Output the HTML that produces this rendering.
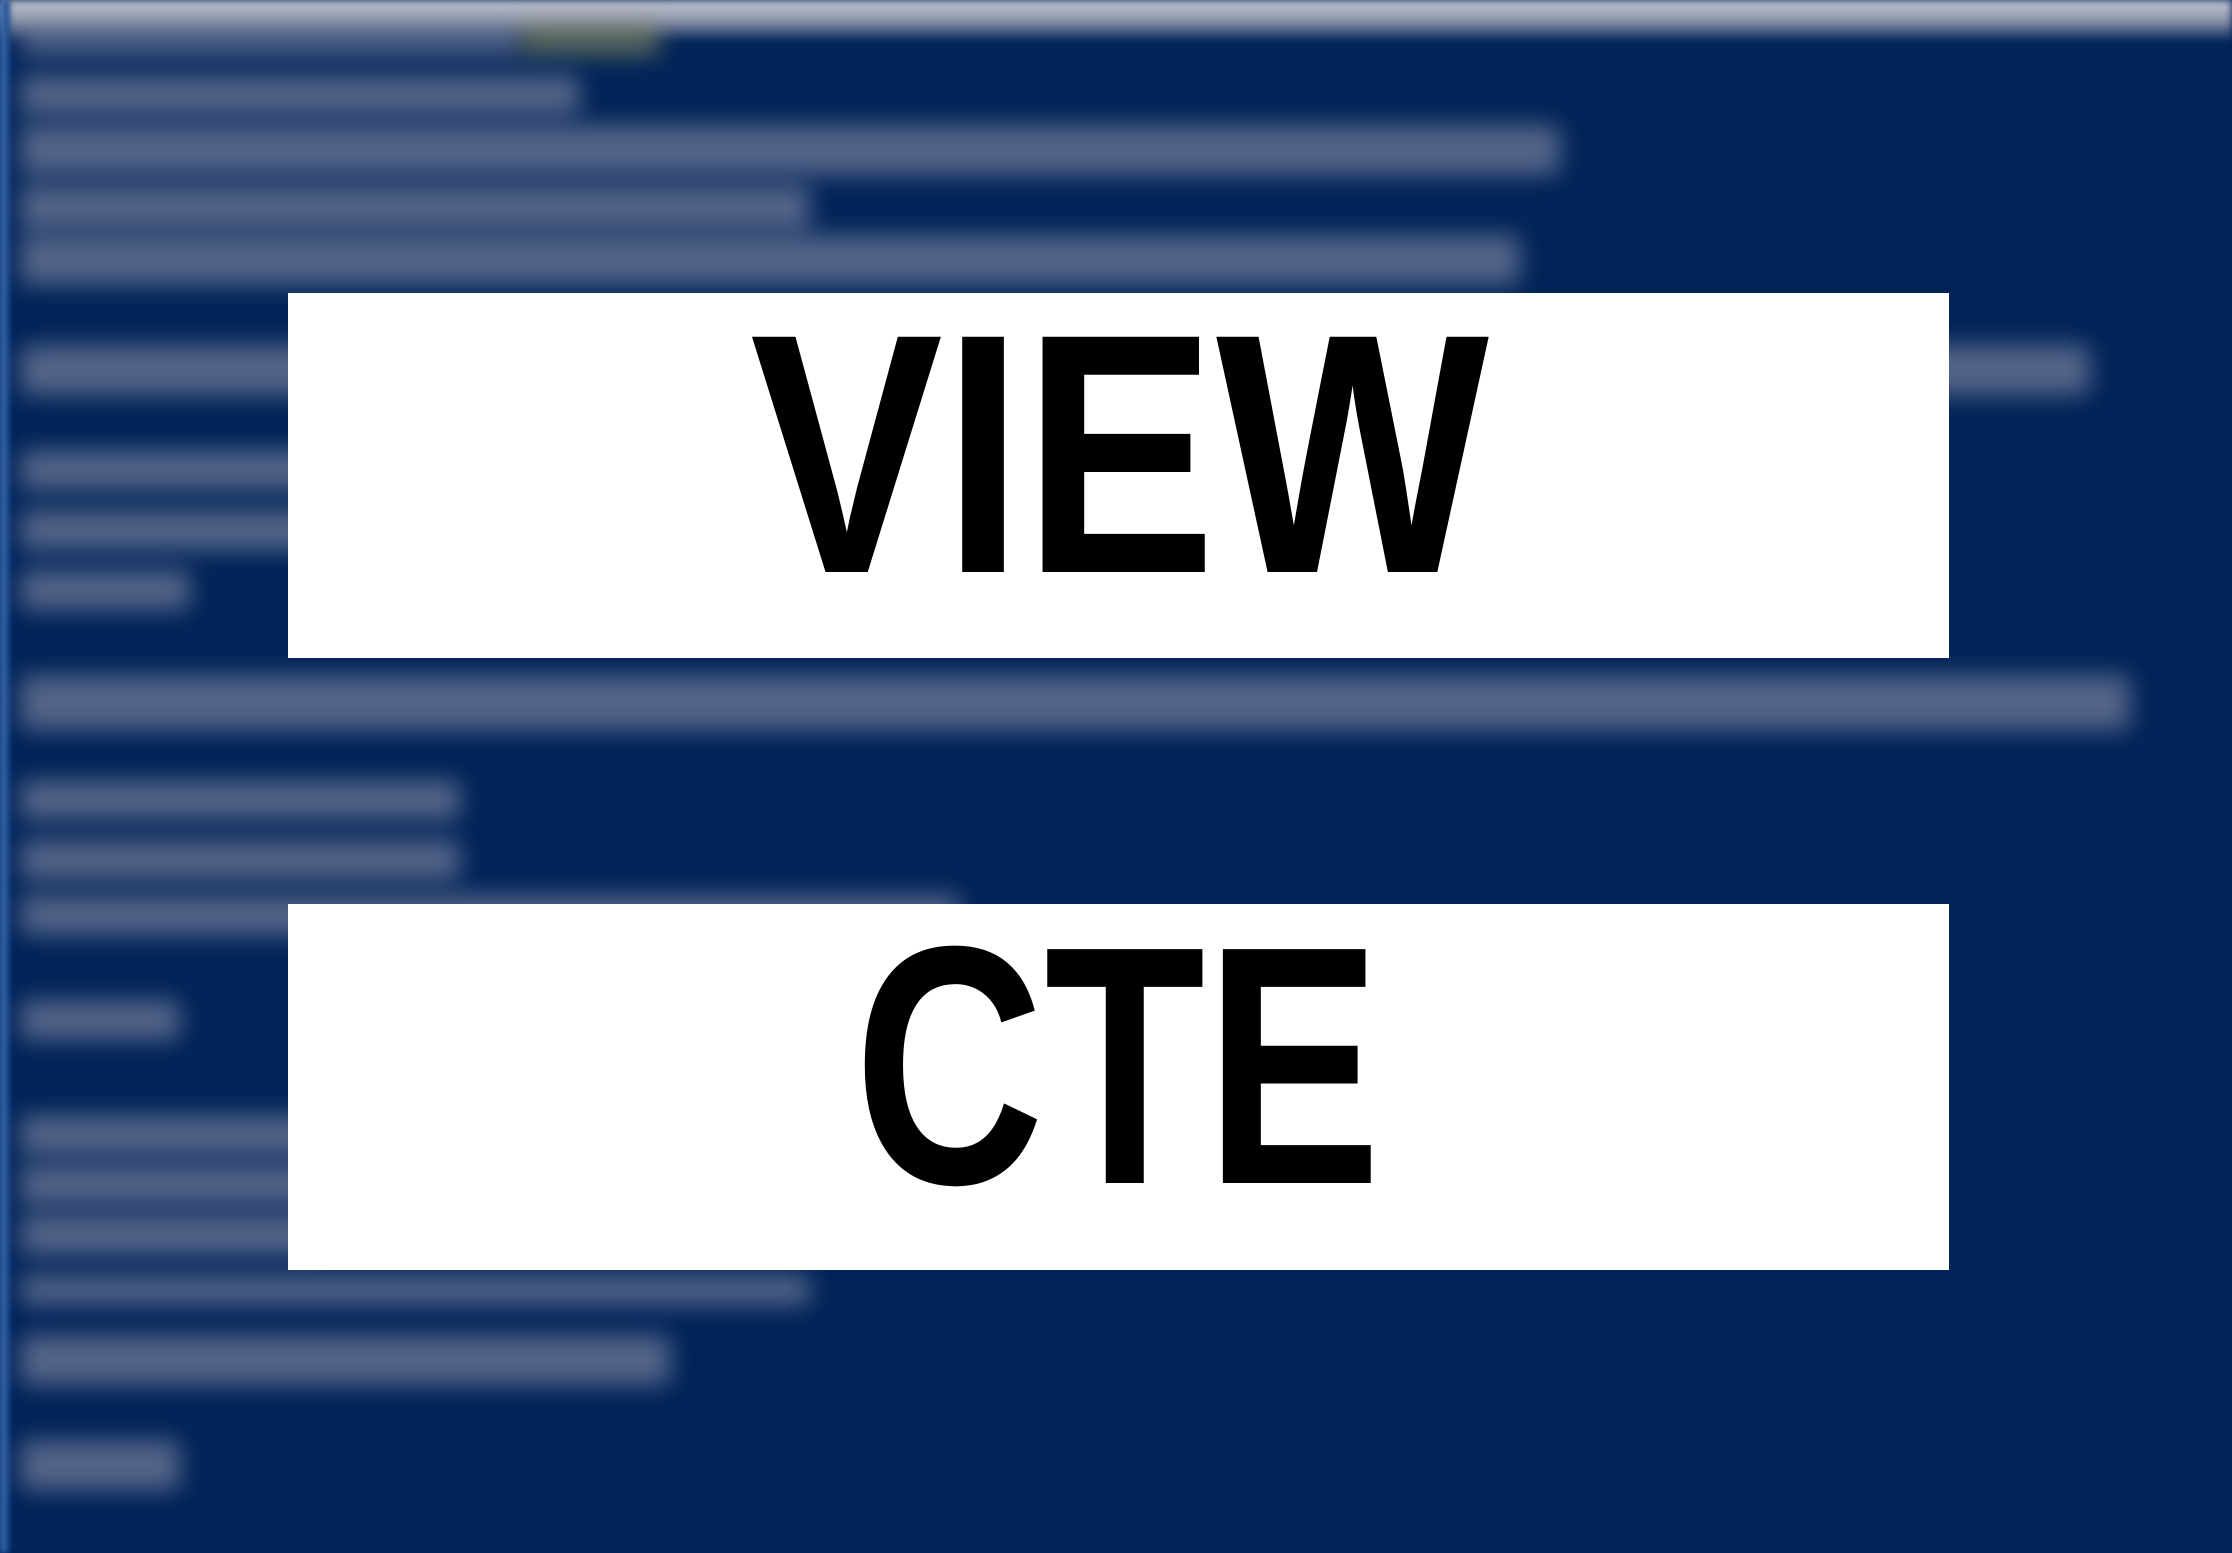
<!DOCTYPE html>
<html><head><meta charset="utf-8"><style>
html,body{margin:0;padding:0;width:2232px;height:1553px;overflow:hidden;background:#012358;}
.bg{position:absolute;left:0;top:0;width:2232px;height:1553px;background:#012358;}
.top{position:absolute;left:0;top:0;width:2232px;height:42px;background:linear-gradient(#c8cbd4,#8a92a8 50%,#012358);filter:blur(4px);}
.left{position:absolute;left:0;top:0;width:10px;height:1553px;background:linear-gradient(90deg,#4a7cc0,#0a3a80);filter:blur(3px);}
.l{position:absolute;height:40px;background:#8a90a8;filter:blur(12px);opacity:.6;border-radius:6px;}
.box{position:absolute;left:288px;width:1661px;background:#fff;}
svg{position:absolute;left:0;top:0;}
</style></head><body>
<div class="bg"></div>
<div class="top"></div>
<div class="left"></div>
<div class="l" style="left:20px;top:25px;width:500px;height:30px"></div>
<div class="l" style="left:520px;top:25px;width:140px;height:30px;background:#9a9a60"></div>
<div class="l" style="left:20px;top:75px;width:560px"></div>
<div class="l" style="left:20px;top:125px;width:1540px;height:50px"></div>
<div class="l" style="left:20px;top:185px;width:790px;height:45px"></div>
<div class="l" style="left:20px;top:235px;width:1500px;height:50px"></div>
<div class="l" style="left:20px;top:345px;width:2070px;height:50px"></div>
<div class="l" style="left:20px;top:450px;width:300px"></div>
<div class="l" style="left:20px;top:510px;width:300px"></div>
<div class="l" style="left:20px;top:570px;width:170px"></div>
<div class="l" style="left:20px;top:675px;width:2110px;height:55px"></div>
<div class="l" style="left:20px;top:780px;width:440px"></div>
<div class="l" style="left:20px;top:840px;width:440px"></div>
<div class="l" style="left:20px;top:895px;width:940px"></div>
<div class="l" style="left:20px;top:1000px;width:160px"></div>
<div class="l" style="left:20px;top:1115px;width:300px"></div>
<div class="l" style="left:20px;top:1165px;width:300px"></div>
<div class="l" style="left:20px;top:1215px;width:300px"></div>
<div class="l" style="left:20px;top:1275px;width:790px;height:30px"></div>
<div class="l" style="left:20px;top:1335px;width:650px;height:50px"></div>
<div class="l" style="left:20px;top:1440px;width:160px;height:50px"></div>
<div class="box" style="top:293px;height:365px"></div>
<div class="box" style="top:904px;height:366px"></div>
<svg width="2232" height="1553" xmlns="http://www.w3.org/2000/svg">
<text x="750" y="572" font-family="Liberation Sans Narrow, Liberation Sans, sans-serif" font-weight="bold" font-size="342" textLength="739" lengthAdjust="spacingAndGlyphs" fill="#000">VIEW</text>
<text x="854" y="1183" font-family="Liberation Sans Narrow, Liberation Sans, sans-serif" font-weight="bold" font-size="340" textLength="527" lengthAdjust="spacingAndGlyphs" fill="#000">CTE</text>
</svg>
</body></html>
